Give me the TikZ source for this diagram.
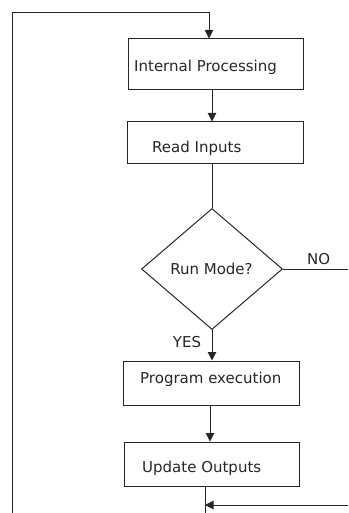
\documentclass[tikz,border=0pt]{standalone}
\usepackage{fontspec}
\setmainfont{DejaVu Sans}
\usetikzlibrary{calc,arrows.meta,shapes.geometric}

\tikzset{
	flow/.style={draw=black!85, line width=1pt},
	box/.style={flow, rectangle, inner sep=0pt},
	decision/.style={flow, diamond, inner sep=0pt, aspect=1.17},
	txt/.style={inner sep=0pt, font=\fontsize{15}{17}\selectfont, text=black!85},
	tip/.style={-{Triangle[length=8.5pt,width=8.5pt]}}
}

\begin{document}
\begin{tikzpicture}[x=1pt,y=-1pt]

		\useasboundingbox (0,0) rectangle (348,513);

		% Boxes
		\node[box, minimum width=175pt, minimum height=51pt] (proc) at (215.5,64.5) {};
		\node[box, minimum width=176pt, minimum height=41pt] (read) at (215,142.5) {};
		\node[decision, minimum width=141pt, minimum height=121pt] (mode) at (212,269) {};
		\node[box, minimum width=176pt, minimum height=44pt] (exec) at (211,383) {};
		\node[box, minimum width=175pt, minimum height=44pt] (upd) at (211.5,464) {};

		% Texts
		\node[txt, anchor=west] (proctxt) at (134,67) {Internal Processing};
		\node[txt, anchor=west] (readtxt) at (152,148) {Read Inputs};
		\node[txt] (modetxt) at (211.5,269) {Run Mode?};
		\node[txt, anchor=west] (exectxt) at (140,379) {Program execution};
		\node[txt, anchor=west] (updtxt) at (142,468) {Update Outputs};

		% Loop ends
		\coordinate (back) at (12,513);
		\coordinate (top) at (209,13);
		\coordinate (noend) at (348,269);
		\coordinate (ret) at (348,505);
		\coordinate (out) at (205,513);

		\draw[flow, tip] (back) |- (top) -- (top |- proc.north);
		\draw[flow, tip] (212,0 |- proc.south) -- (212,0 |- read.north);
		\draw[flow] (mode.north |- read.south) -- (mode.north);
		\draw[flow] (mode.east) -- (noend) node[txt, pos=0.55, above=4pt] (no) {NO};
		\draw[flow, tip] (mode.south) -- (mode.south |- exec.north);
		\node[txt] (yes) at (187,342) {YES};
		\draw[flow, tip] (210,0 |- exec.south) -- (210,0 |- upd.north);
		\draw[flow] (205,0 |- upd.south) -- (out);
		\draw[flow, tip] (ret) -- (ret -| out);

	\end{tikzpicture}
\end{document}
